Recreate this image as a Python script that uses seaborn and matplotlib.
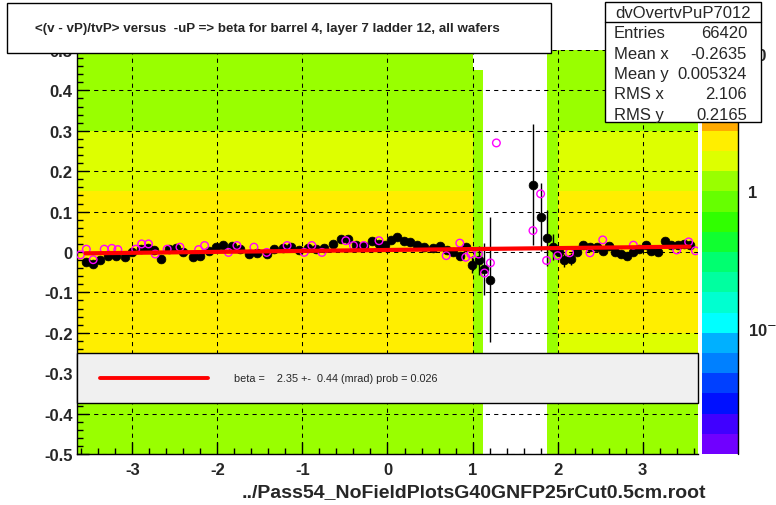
import numpy as np
import pandas as pd
import matplotlib
matplotlib.use("Agg")
import matplotlib.pyplot as plt
from matplotlib.colors import ListedColormap
from matplotlib.patches import Rectangle
from matplotlib.lines import Line2D
from matplotlib.ticker import MultipleLocator, FixedLocator, FuncFormatter
import seaborn as sns

# --- 2D histogram, coarse reading of the colour field (counts per bin) ---
x_edges = [-3.65, -3.0, -2.5, -2.0, -1.5, -1.0, -0.5, 0.0, 0.5, 1.0, 1.12,
           1.75, 1.88, 2.0, 2.5, 3.0, 3.65]
y_edges = [0.5, 0.45, 0.4, 0.35, 0.3, 0.25, 0.2, 0.15, 0.1, 0.05, 0.0,
           -0.05, -0.1, -0.15, -0.2, -0.25, -0.3, -0.35, -0.4, -0.45, -0.5]
# rows from top (0.45..0.5) to bottom (-0.5..-0.45), one value per x column
cell_levels = [
    [1.1, 1.1, 1.1, 1.1, 1.1, 1.1, 1.1, 1.1, 1.1, 0.0, 0, 0, 1.1, 1.1, 1.1, 1.1],
    [1.1, 1.1, 1.1, 1.1, 1.1, 1.1, 1.1, 1.1, 1.1, 1.1, 0, 0, 1.1, 1.1, 1.1, 1.1],
    [1.2, 1.2, 1.2, 1.2, 1.2, 1.2, 1.2, 1.2, 1.2, 1.1, 0, 0, 1.1, 1.2, 1.2, 1.2],
    [1.3, 1.3, 1.3, 1.3, 1.3, 1.3, 1.3, 1.3, 1.3, 1.1, 0, 0, 1.1, 1.3, 1.3, 1.3],
    [1.5, 1.5, 1.5, 1.5, 1.5, 1.5, 1.5, 1.5, 1.5, 1.1, 0, 0, 1.1, 1.5, 1.5, 1.5],
    [1.7, 1.7, 1.7, 1.7, 1.7, 1.7, 1.7, 1.7, 1.7, 1.1, 0, 0, 1.1, 1.6, 1.6, 1.6],
    [1.9, 1.9, 1.9, 1.9, 1.9, 1.9, 1.9, 1.9, 1.9, 1.1, 0, 0, 1.1, 1.8, 1.8, 1.8],
    [2.1, 2.1, 2.1, 2.1, 2.1, 2.1, 2.1, 2.1, 2.1, 1.1, 0, 0, 1.1, 2.1, 2.1, 2.1],
    [2.2, 2.2, 2.2, 2.2, 2.2, 2.2, 2.2, 2.2, 2.2, 1.1, 0, 0, 1.1, 2.2, 2.2, 2.2],
    [2.3, 2.3, 2.3, 2.3, 2.3, 2.3, 2.3, 2.3, 2.3, 1.1, 0, 0, 1.1, 2.3, 2.3, 2.3],
    [2.3, 2.3, 2.3, 2.3, 2.3, 2.3, 2.3, 2.3, 2.3, 1.1, 0, 0, 1.1, 2.3, 2.3, 2.3],
    [2.3, 2.3, 2.3, 2.3, 2.3, 2.3, 2.3, 2.3, 2.3, 1.1, 0, 0, 1.1, 2.3, 2.3, 2.3],
    [2.2, 2.2, 2.2, 2.2, 2.2, 2.2, 2.2, 2.2, 2.2, 1.1, 0, 0, 1.1, 2.2, 2.2, 2.2],
    [2.1, 2.1, 2.1, 2.1, 2.1, 2.1, 2.1, 2.1, 2.1, 1.1, 0, 0, 1.1, 2.0, 2.0, 2.0],
    [2.0, 2.0, 2.0, 2.0, 2.0, 2.0, 2.0, 2.0, 2.0, 1.1, 0, 0, 1.1, 1.8, 1.8, 1.8],
    [1.9, 1.9, 1.9, 1.9, 1.9, 1.9, 1.9, 1.9, 1.9, 1.1, 0, 0, 1.1, 1.6, 1.6, 1.6],
    [1.6, 1.6, 1.6, 1.6, 1.6, 1.6, 1.6, 1.6, 1.6, 1.1, 0, 0, 1.1, 1.5, 1.5, 1.5],
    [1.3, 1.3, 1.3, 1.3, 1.3, 1.3, 1.3, 1.3, 1.3, 1.1, 0, 0, 1.1, 1.3, 1.3, 1.3],
    [1.1, 1.1, 1.1, 1.1, 1.1, 1.1, 1.1, 1.1, 1.1, 1.1, 0, 0, 1.1, 1.1, 1.1, 1.1],
    [1.1, 1.1, 1.1, 1.1, 1.1, 1.1, 1.1, 1.1, 1.1, 1.1, 0, 0, 1.1, 1.1, 1.1, 1.1],
]

# --- profile (black points with errors) ---
prof_x = [-3.55, -3.46, -3.38, -3.29, -3.19, -3.09, -3.00, -2.90, -2.82, -2.74,
          -2.66, -2.57, -2.49, -2.40, -2.29, -2.20, -2.10, -2.02, -1.93, -1.83,
          -1.73, -1.63, -1.53, -1.42, -1.34, -1.23, -1.14, -1.04, -0.94, -0.84,
          -0.75, -0.64, -0.55, -0.46, -0.37, -0.28, -0.18, -0.10, -0.03, 0.04,
          0.11, 0.19, 0.27, 0.35, 0.43, 0.53, 0.62, 0.70, 0.77, 0.85,
          0.92, 0.99, 1.07, 1.14, 1.21,
          1.71, 1.80, 1.87, 1.94, 2.02, 2.08, 2.16, 2.23, 2.30, 2.38,
          2.46, 2.53, 2.60, 2.67, 2.75, 2.82, 2.89, 2.96, 3.04, 3.10,
          3.18, 3.26, 3.33, 3.41, 3.49, 3.56]
prof_y = [-0.025, -0.030, -0.019, -0.011, -0.011, -0.013, -0.001, 0.007, 0.009, 0.004,
          -0.017, 0.007, 0.009, -0.001, -0.013, -0.011, 0.003, 0.012, 0.017, 0.016,
          0.007, -0.005, -0.002, -0.005, 0.007, 0.009, 0.012, 0.006, 0.009, 0.007,
          0.009, 0.020, 0.031, 0.031, 0.018, 0.016, 0.026, 0.020, 0.017, 0.030,
          0.036, 0.028, 0.024, 0.017, 0.013, 0.009, 0.016, 0.005, 0.001, -0.009,
          0.012, -0.031, -0.021, -0.042, -0.069,
          0.167, 0.087, 0.035, 0.012, 0.001, -0.021, -0.017, 0.001, 0.018, 0.013,
          0.013, 0.002, 0.016, 0.001, -0.005, -0.009, -0.001, 0.007, 0.017, 0.003,
          0.001, 0.026, 0.018, 0.018, 0.020, 0.018]
prof_err = [0.008, 0.008, 0.007, 0.006, 0.006, 0.006, 0.006, 0.006, 0.006, 0.006,
            0.006, 0.006, 0.006, 0.006, 0.006, 0.006, 0.006, 0.006, 0.006, 0.006,
            0.006, 0.006, 0.006, 0.006, 0.006, 0.006, 0.006, 0.006, 0.006, 0.006,
            0.006, 0.006, 0.006, 0.006, 0.006, 0.006, 0.006, 0.006, 0.006, 0.006,
            0.006, 0.006, 0.006, 0.006, 0.006, 0.006, 0.006, 0.006, 0.006, 0.008,
            0.010, 0.022, 0.037, 0.065, 0.155,
            0.150, 0.085, 0.070, 0.033, 0.010, 0.015, 0.015, 0.008, 0.006, 0.006,
            0.006, 0.006, 0.006, 0.006, 0.006, 0.006, 0.006, 0.006, 0.006, 0.006,
            0.006, 0.006, 0.006, 0.006, 0.006, 0.008]

# --- second profile (magenta open circles) ---
alt_x = [-3.61, -3.54, -3.46, -3.33, -3.24, -3.17, -2.96, -2.89, -2.81, -2.73,
         -2.59, -2.44, -2.22, -2.15, -1.87, -1.77, -1.57, -1.42, -1.18, -0.98,
         -0.89, -0.77, -0.49, -0.40, -0.28, -0.10, 0.69, 0.85, 0.92, 0.98,
         1.07, 1.14, 1.21, 1.28, 1.71, 1.80, 1.87, 2.00, 2.14, 2.38,
         2.53, 2.89, 3.40, 3.54, 3.62]
alt_y = [-0.007, 0.007, -0.019, 0.007, 0.009, 0.006, 0.007, 0.020, 0.020, -0.005,
         0.007, 0.012, 0.006, 0.016, -0.001, 0.016, 0.012, -0.001, 0.016, -0.001,
         0.016, -0.001, 0.028, 0.016, 0.016, 0.028, -0.009, 0.022, -0.013, -0.005,
         -0.005, -0.052, -0.027, 0.270, 0.053, 0.144, -0.021, -0.009, -0.002, -0.002,
         0.030, 0.017, 0.005, 0.025, 0.003]

# --- linear fit ---
fit_x = [-3.55, 3.55]
fit_y = [-0.0033, 0.0133]
fit_text = "beta =    2.35 +-  0.44 (mrad) prob = 0.026"

stats_name = "dvOvertvPuP7012"
stats_labels = ["Entries", "Mean x", "Mean y", "RMS x", "RMS y"]
stats_values = ["66420", "-0.2635", "0.005324", "2.106", "0.2165"]

title = "<(v - vP)/tvP> versus  -uP => beta for barrel 4, layer 7 ladder 12, all wafers"
xlabel = "../Pass54_NoFieldPlotsG40GNFP25rCut0.5cm.root"

palette = ["#7000ff", "#4000ff", "#0010ff", "#0040ff", "#0080ff", "#00b0ff",
           "#00ffff", "#00ffd0", "#00ffa0", "#00ff70", "#10ff30", "#30ff00",
           "#66ff00", "#99ff00", "#ddff00", "#ffee00", "#ffaa00", "#ff7700",
           "#ff4400", "#ff0000"]

sns.set_theme(style="white")
plt.rcParams["font.family"] = ["Liberation Sans", "DejaVu Sans"]
plt.rcParams["axes.unicode_minus"] = False

W, H = 776, 506


def fx(px):
    return px / W


def fy(py):
    return 1 - py / H


def y_label(v, pos):
    if abs(v) < 1e-9:
        return "0"
    return f"{v:.1f}"


fig = plt.figure(figsize=(W / 100, H / 100), dpi=100)
ax = fig.add_axes([fx(77), fy(455), (698 - 77) / W, 404 / H])
cax = fig.add_axes([fx(702), fy(455), 36 / W, 404 / H])

# build cell table for the weighted 2D histogram
rows = []
for i, row in enumerate(cell_levels):
    yc = (y_edges[i] + y_edges[i + 1]) / 2
    for j, lev in enumerate(row):
        xc = (x_edges[j] + x_edges[j + 1]) / 2
        rows.append((xc, yc, lev))
cells = pd.DataFrame(rows, columns=["x", "y", "level"])

sns.histplot(data=cells, x="x", y="y", weights="level",
             bins=[list(x_edges), sorted(y_edges)],
             cmap=ListedColormap(palette), norm="log", vmin=0.012, vmax=10.7,
             cbar=True, cbar_ax=cax, ax=ax, zorder=1)

ax.set_xlim(-3.65, 3.65)
ax.set_ylim(-0.5, 0.5)
ax.set_xlabel("")
ax.set_ylabel("")

# grid and ticks
ax.set_axisbelow(False)
ax.grid(True, which="major", color="black", linestyle=(0, (4, 4)), linewidth=0.75)
ax.xaxis.set_major_locator(MultipleLocator(1))
ax.xaxis.set_minor_locator(MultipleLocator(0.2))
ax.yaxis.set_major_locator(MultipleLocator(0.1))
ax.yaxis.set_minor_locator(MultipleLocator(0.02))
ax.yaxis.set_major_formatter(FuncFormatter(y_label))
ax.xaxis.set_major_formatter(FuncFormatter(lambda v, p: f"{v:.0f}" if abs(v) > 1e-9 else "0"))
ax.tick_params(axis="both", which="major", direction="in", length=8.6, width=1,
               color="black", labelsize=12, bottom=True, left=True, top=False, right=False)
ax.tick_params(axis="both", which="minor", direction="in", length=4.3, width=1,
               color="black", bottom=True, left=True, top=False, right=False)
ax.tick_params(axis="y", which="major", pad=3)
ax.tick_params(axis="x", which="major", pad=6)
for lab in ax.get_xticklabels() + ax.get_yticklabels():
    lab.set_fontweight("bold")
for side in ["top", "right"]:
    ax.spines[side].set_visible(False)
for side in ["left", "bottom"]:
    ax.spines[side].set_color("black")
    ax.spines[side].set_linewidth(1)

# profile points
ax.errorbar(prof_x, prof_y, yerr=prof_err, fmt="none", ecolor="black",
            elinewidth=1, zorder=3)
sns.scatterplot(x=prof_x, y=prof_y, color="black", edgecolor="black", s=40,
                marker="o", linewidth=0.5, ax=ax, zorder=4)
sns.scatterplot(x=alt_x, y=alt_y, facecolor="none", edgecolor="#ff00ff", s=30,
                marker="o", linewidth=1, ax=ax, zorder=5)
sns.lineplot(x=fit_x, y=fit_y, color="red", linewidth=3, ax=ax, zorder=6)

# fit legend box
ax.add_patch(Rectangle((0, (455 - 404) / 404), 1, 50 / 404, transform=ax.transAxes,
                       facecolor="#f0f0f0", edgecolor="black", linewidth=1,
                       zorder=10, clip_on=False))
ax.add_line(Line2D([(100 - 77) / 621, (208 - 77) / 621], [(455 - 379) / 404] * 2,
                   transform=ax.transAxes, color="red", linewidth=2.8, zorder=11))
ax.text((234 - 77) / 621, (455 - 379) / 404, fit_text, transform=ax.transAxes,
        fontsize=7.8, va="center", ha="left", zorder=11)

# colour bar styling
cax.set_ylim(0.012, 10.7)
cax.yaxis.set_major_locator(FixedLocator([0.1, 1, 10]))
cax.yaxis.set_minor_locator(FixedLocator(
    [k * 10.0 ** e for e in (-2, -1, 0, 1) for k in range(2, 10)]))
cax.yaxis.set_major_formatter(FuncFormatter(
    lambda v, p: {0.1: "10$^{-1}$", 1: "1", 10: "10"}.get(round(v, 3), "")))
cax.yaxis.set_minor_formatter(FuncFormatter(lambda v, p: ""))
cax.yaxis.set_ticks_position("right")
cax.tick_params(axis="y", which="major", direction="in", length=13.7, width=1,
                color="black", labelsize=12, pad=7)
cax.tick_params(axis="y", which="minor", direction="in", length=7, width=1,
                color="black")
for lab in cax.get_yticklabels():
    lab.set_fontweight("bold")
for sp in cax.spines.values():
    sp.set_visible(False)
cax.add_line(Line2D([1, 1], [0, 1], transform=cax.transAxes, color="black",
                    linewidth=1, clip_on=False))

# title box
fig.add_artist(Rectangle((fx(7), fy(54)), (551 - 7) / W, 50 / H,
                         transform=fig.transFigure, facecolor="white",
                         edgecolor="black", linewidth=1, zorder=20))
fig.text(fx(35), fy(29), title, fontsize=9.6, fontweight="bold", ha="left",
         va="center", zorder=21)

# stats box
fig.add_artist(Rectangle((fx(605), fy(123)), (761 - 605) / W, 120 / H,
                         transform=fig.transFigure, facecolor="white",
                         edgecolor="black", linewidth=1, zorder=20))
fig.add_artist(Line2D([fx(605), fx(761)], [fy(23), fy(23)],
                      transform=fig.transFigure, color="black", linewidth=1,
                      zorder=21))
fig.text(fx(683), fy(13), stats_name, fontsize=12, ha="center", va="center",
         zorder=21)
for k, (lab, val) in enumerate(zip(stats_labels, stats_values)):
    ypix = 34 + k * 20.3
    fig.text(fx(614), fy(ypix), lab, fontsize=12, ha="left", va="center", zorder=21)
    fig.text(fx(747), fy(ypix), val, fontsize=12, ha="right", va="center", zorder=21)

fig.text(fx(706), fy(493), xlabel, fontsize=14, fontweight="bold", ha="right",
         va="center")

fig.savefig("out.png", dpi=100)
